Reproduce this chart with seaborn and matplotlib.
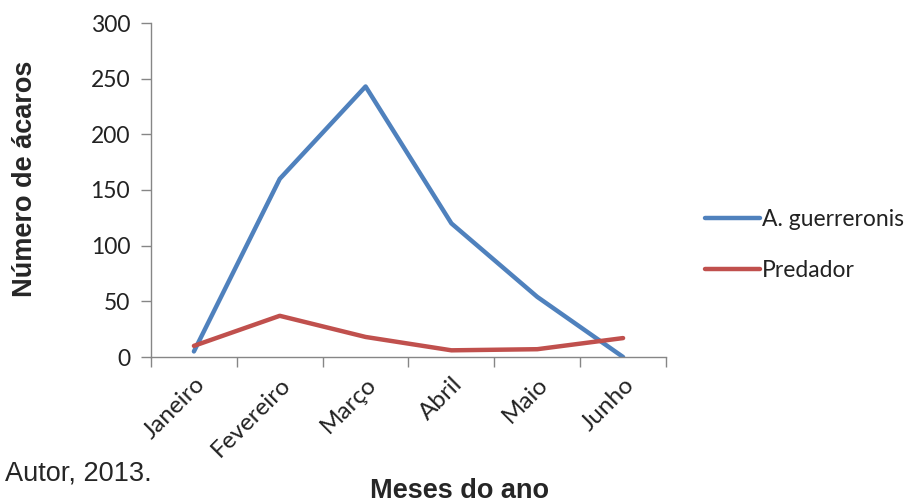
import matplotlib
matplotlib.use("Agg")
import matplotlib.pyplot as plt
import seaborn as sns
import pandas as pd

meses = ["Janeiro", "Fevereiro", "Março", "Abril", "Maio", "Junho"]
guerreronis = [5, 160, 243, 120, 54, 0]
predador = [10, 37, 18, 6, 7, 17]
series_names = ["A. guerreronis", "Predador"]
y_ticks = [0, 50, 100, 150, 200, 250, 300]

df = pd.DataFrame({
    "mes": list(range(len(meses))) * 2,
    "valor": guerreronis + predador,
    "serie": [series_names[0]] * len(meses) + [series_names[1]] * len(meses),
})

sns.set_style("white")
fig = plt.figure(figsize=(9.2, 5.04), dpi=100)
ax = fig.add_axes([151 / 920, 1 - 357 / 504, (666 - 151) / 920, (357 - 23) / 504])

palette = {series_names[0]: "#4F81BD", series_names[1]: "#C0504D"}
sns.lineplot(data=df, x="mes", y="valor", hue="serie", palette=palette,
             linewidth=3.2, ax=ax, legend=False)

ax.set_xlim(-0.5, len(meses) - 0.5)
ax.set_ylim(0, 300)
ax.set_yticks(y_ticks)
ax.set_yticklabels([str(v) for v in y_ticks], fontfamily="Lato", fontsize=16.5,
                   color="#222222")

# category boundaries carry the tick marks; labels sit between them
ax.set_xticks([i - 0.5 for i in range(len(meses) + 1)], minor=False)
ax.set_xticklabels([])
ax.set_xticks(range(len(meses)), minor=True)
ax.set_xticklabels(meses, minor=True, rotation=45, ha="right",
                   rotation_mode="anchor", fontfamily="Lato", fontsize=17.5,
                   color="#222222")
ax.tick_params(axis="x", which="minor", length=0, pad=12)
ax.tick_params(axis="x", which="major", length=7, width=1, color="#868686",
               direction="out", bottom=True)
ax.tick_params(axis="y", length=7, width=1, color="#868686", direction="out",
               left=True, pad=8)

for side in ["top", "right"]:
    ax.spines[side].set_visible(False)
for side in ["left", "bottom"]:
    ax.spines[side].set_color("#868686")
    ax.spines[side].set_linewidth(1)

ax.set_xlabel("")
ax.set_ylabel("")
fig.text(25 / 920, 1 - 179 / 504, "Número de ácaros", rotation=90,
         ha="center", va="center", fontfamily="Liberation Sans",
         fontweight="bold", fontsize=19.5)
fig.text(460 / 920, 1 - 491 / 504, "Meses do ano", ha="center", va="center",
         fontfamily="Liberation Sans", fontweight="bold", fontsize=19.5)
fig.text(5 / 920, 1 - 473 / 504, "Autor, 2013.", ha="left", va="center",
         fontfamily="Liberation Sans", fontsize=19.5)

handles = [plt.Line2D([], [], color=palette[n], linewidth=3.2) for n in series_names]
fig.legend(handles, series_names, loc="center left",
           bbox_to_anchor=(705 / 920, 1 - 245 / 504), frameon=False,
           borderpad=0, borderaxespad=0,
           prop={"family": "Lato", "size": 16.5}, handlelength=2.4,
           handletextpad=0.08, labelspacing=1.28, labelcolor="#222222")

fig.savefig("out.png", dpi=100)
